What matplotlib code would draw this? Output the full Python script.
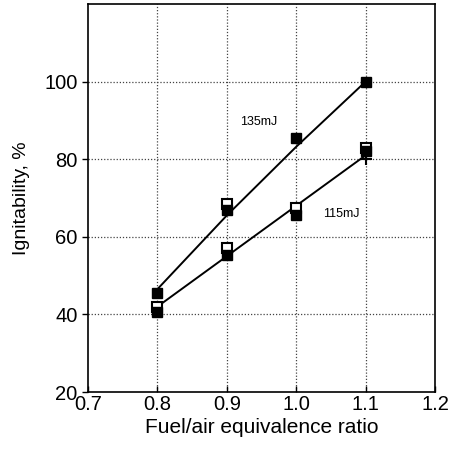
import matplotlib
matplotlib.use("Agg")
import matplotlib.pyplot as plt

plt.rcParams['font.family'] = ['Liberation Sans', 'DejaVu Sans']

# 135 mJ data
x135_filled = [0.8, 0.9, 1.0, 1.1]
y135_filled = [45.5, 67.0, 85.4, 100.0]
x135_open = [0.9]
y135_open = [68.4]
line135_x = [0.8, 0.9, 1.0, 1.1]
line135_y = [46.5, 65.5, 83.2, 100.0]

# 115 mJ data
x115_filled = [0.8, 0.9, 1.0, 1.1]
y115_filled = [40.5, 55.3, 65.5, 82.0]
x115_open = [0.8, 0.9, 1.0, 1.1]
y115_open = [42.0, 57.0, 67.4, 83.0]
x115_plus = [1.1]
y115_plus = [80.0]
line115_x = [0.8, 1.1]
line115_y = [42.0, 81.0]

xticks = [0.7, 0.8, 0.9, 1.0, 1.1, 1.2]
xticklabels = ["0.7", "0.8", "0.9", "1.0", "1.1", "1.2"]
yticks = [20, 40, 60, 80, 100]

fig = plt.figure(figsize=(4.55, 4.49), dpi=100)
ax = fig.add_axes([88/455, 1 - 392/449, (435-88)/455, (392-4)/449])

ax.set_xlim(0.7, 1.2)
ax.set_ylim(20, 120)
ax.set_xticks(xticks)
ax.set_xticklabels(xticklabels)
ax.set_yticks(yticks)

for v in [0.8, 0.9, 1.0, 1.1]:
    ax.axvline(v, color='#444444', lw=0.9, ls=(0, (1, 1.5)), zorder=1)
for v in [40, 60, 80, 100]:
    ax.axhline(v, color='#444444', lw=0.9, ls=(0, (1, 1.5)), zorder=1)

ax.plot(line135_x, line135_y, color='black', lw=1.4, zorder=2)
ax.plot(line115_x, line115_y, color='black', lw=1.4, zorder=2)

ax.plot(x135_open, y135_open, ls='none', marker='s', ms=7, mfc='white', mec='black', mew=1.5, zorder=3)
ax.plot(x115_open, y115_open, ls='none', marker='s', ms=7, mfc='white', mec='black', mew=1.5, zorder=3)
ax.plot(x135_filled, y135_filled, ls='none', marker='s', ms=7, mfc='black', mec='black', zorder=4)
ax.plot(x115_filled, y115_filled, ls='none', marker='s', ms=7, mfc='black', mec='black', zorder=4)
ax.plot(x115_plus, y115_plus, ls='none', marker='+', ms=9, mec='black', mew=1.5, zorder=4)

ax.text(0.919, 89.5, "135mJ", fontsize=9, va='center', ha='left')
ax.text(1.039, 66.0, "115mJ", fontsize=9, va='center', ha='left')

for s in ax.spines.values():
    s.set_linewidth(1.2)
ax.tick_params(axis='both', labelsize=14.5, direction='out', length=4, width=1)
ax.tick_params(axis='x', direction='in', pad=2)

ax.set_xlabel("Fuel/air equivalence ratio", fontsize=15, labelpad=3)
ax.set_ylabel("Ignitability, %", fontsize=14, labelpad=10)

fig.savefig("out.png", dpi=100)
